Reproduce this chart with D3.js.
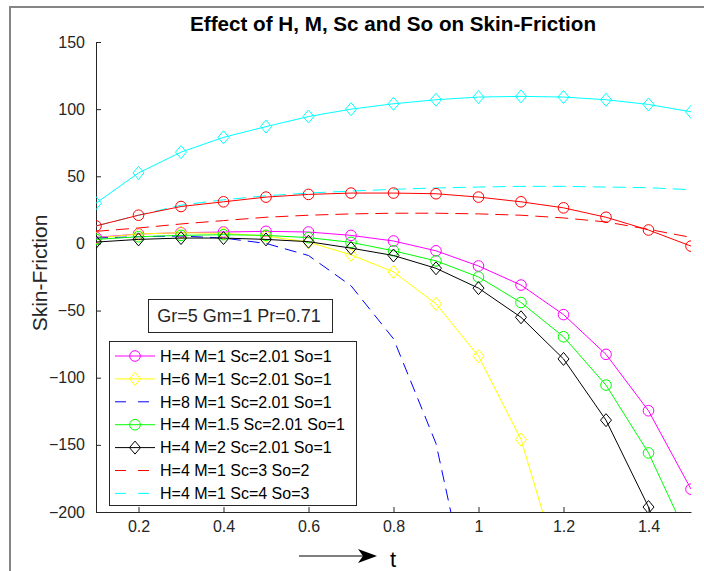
<!DOCTYPE html>
<html>
<head>
<meta charset="utf-8">
<script src="https://cdn.jsdelivr.net/npm/d3@7"></script>
<style>
  body { margin: 0; background: #fff; }
  svg text { font-family: "Liberation Sans", Arial, sans-serif; fill: #262626; }
</style>
</head>
<body>
<svg id="chart" width="704" height="571"></svg>
<script>
// values
var t_values = [0.1, 0.2, 0.3, 0.4, 0.5, 0.6, 0.7, 0.8, 0.9, 1.0, 1.1, 1.2, 1.3, 1.4, 1.5];

var sf_h4 = [4.5, 7, 8, 8.5, 9, 8.5, 6, 1.8, -5.5, -16.8, -31, -53, -82.6, -124.6, -183];
var sf_h6 = [4, 7, 8, 7.5, 5.5, 1, -8.5, -21.2, -45, -84, -146, -252];
var sf_h8 = [4, 5, 5.5, 4, 0, -9, -31.5, -71, -149, -295];
var sf_m15 = [3, 5, 6, 6.5, 6, 4.3, 0.8, -5.5, -13, -25, -44, -69.5, -105.5, -156, -224];
var sf_m2 = [1, 3, 4, 4, 3, 1.3, -3.5, -9, -18.5, -33.3, -55, -86, -131.6, -196.3, -285];
var sf_sc3 = [9, 11.5, 14.5, 17, 19.5, 21, 22, 22.5, 22.5, 22, 21, 19, 16, 10.5, 4.5];
var sf_sc4 = [13, 21, 28.5, 32.5, 35.5, 37.5, 39, 40.3, 41.3, 42, 42.5, 42.5, 42, 41.5, 40];
// two more curves on the plot that the legend does not list
var sf_red_extra = [13, 21, 27.5, 31, 34.5, 36.5, 37.5, 37.5, 37, 34.5, 31, 26.5, 19.5, 10, -2];
var sf_cyan_extra = [30, 52.5, 68, 79, 87, 94.5, 100, 104, 107, 109, 109.5, 109, 107, 103.5, 98];

var legend_labels = [
  "H=4 M=1 Sc=2.01 So=1",
  "H=6 M=1 Sc=2.01 So=1",
  "H=8 M=1 Sc=2.01 So=1",
  "H=4 M=1.5 Sc=2.01 So=1",
  "H=4 M=2 Sc=2.01 So=1",
  "H=4 M=1 Sc=3 So=2",
  "H=4 M=1 Sc=4 So=3"
];

var x_ticks = [0.2, 0.4, 0.6, 0.8, 1.0, 1.2, 1.4];
var x_tick_labels = ["0.2", "0.4", "0.6", "0.8", "1", "1.2", "1.4"];
var y_ticks = [-200, -150, -100, -50, 0, 50, 100, 150];
var y_tick_labels = ["\u2212200", "\u2212150", "\u2212100", "\u221250", "0", "50", "100", "150"];

var series = [
  {values: sf_h4, color: "#ff00ff", dash: null, marker: "circle"},
  {values: sf_h6, color: "#ffff00", dash: null, marker: "diamond"},
  {values: sf_h8, color: "#0000ff", dash: "12,7", marker: null},
  {values: sf_m15, color: "#00ff00", dash: null, marker: "circle"},
  {values: sf_m2, color: "#000000", dash: null, marker: "diamond"},
  {values: sf_sc3, color: "#ff0000", dash: "13,7", marker: null},
  {values: sf_sc4, color: "#00ffff", dash: "13,7", marker: null},
  {values: sf_red_extra, color: "#ff0000", dash: null, marker: "circle"},
  {values: sf_cyan_extra, color: "#00ffff", dash: null, marker: "diamond"}
];

var svg = d3.select("svg#chart");

// grey frame of the figure window
svg.append("line").attr("x1", 10).attr("y1", 6).attr("x2", 10).attr("y2", 571)
  .attr("stroke", "#858585").attr("stroke-width", 2);
svg.append("line").attr("x1", 9).attr("y1", 7).attr("x2", 704).attr("y2", 7)
  .attr("stroke", "#858585").attr("stroke-width", 2);

var x = d3.scaleLinear().domain([0.1, 1.5]).range([96, 691]);
var y = d3.scaleLinear().domain([-200, 150]).range([512, 42]);

svg.append("clipPath").attr("id", "plotclip")
  .append("rect").attr("x", 96).attr("y", 42).attr("width", 595).attr("height", 470);

//axes, ticks point inward like matlab
var xAxis = svg.append("g")
  .attr("transform", "translate(0,512)")
  .call(d3.axisBottom(x).tickValues(x_ticks)
    .tickFormat(function(d, i) { return x_tick_labels[i]; })
    .tickSizeInner(-5).tickSizeOuter(0).tickPadding(9));
var yAxis = svg.append("g")
  .attr("transform", "translate(96,0)")
  .call(d3.axisLeft(y).tickValues(y_ticks)
    .tickFormat(function(d, i) { return y_tick_labels[i]; })
    .tickSizeInner(-5).tickSizeOuter(0).tickPadding(11));

[xAxis, yAxis].forEach(function(a) {
  a.attr("color", "#262626");
  a.selectAll("text").attr("font-size", 16).attr("font-family", null).style("fill", "#262626");
  a.select(".domain").attr("stroke", "#262626");
});

//curves
var line = d3.line()
  .x(function(d, i) { return x(t_values[i]); })
  .y(function(d) { return y(d); });

var plot = svg.append("g").attr("clip-path", "url(#plotclip)");

function drawMarker(g, type, cx, cy, color) {
  if (type == "circle") {
    g.append("circle").attr("cx", cx).attr("cy", cy).attr("r", 5.3)
      .attr("fill", "none").attr("stroke", color).attr("stroke-width", 1);
  } else if (type == "diamond") {
    g.append("path")
      .attr("d", "M" + cx + "," + (cy - 6.5) + "L" + (cx + 5.5) + "," + cy + "L" + cx + "," + (cy + 6.5) + "L" + (cx - 5.5) + "," + cy + "Z")
      .attr("fill", "none").attr("stroke", color).attr("stroke-width", 1);
  }
}

series.forEach(function(s) {
  var g = plot.append("g");
  g.append("path")
    .attr("d", line(s.values))
    .attr("fill", "none")
    .attr("stroke", s.color)
    .attr("stroke-width", 1)
    .attr("stroke-dasharray", s.dash);
  if (s.marker) {
    s.values.forEach(function(v, i) {
      var cy = y(v);
      if (cy <= 512 && cy >= 42) drawMarker(g, s.marker, x(t_values[i]), cy, s.color);
    });
  }
});

//title and labels
svg.append("text").attr("x", 393).attr("y", 31).attr("text-anchor", "middle")
  .attr("font-size", 20).attr("font-weight", "bold").style("fill", "#000")
  .attr("textLength", 406).attr("lengthAdjust", "spacingAndGlyphs")
  .text("Effect of H, M, Sc and So on Skin-Friction");

svg.append("text").attr("transform", "translate(47,273) rotate(-90)")
  .attr("text-anchor", "middle").attr("font-size", 21)
  .text("Skin-Friction");

// arrow and t under the x axis
svg.append("line").attr("x1", 299).attr("y1", 556).attr("x2", 366).attr("y2", 556)
  .attr("stroke", "#000").attr("stroke-width", 1.2);
svg.append("path").attr("d", "M377,556L358,549L363,556L358,563Z").attr("fill", "#000");
svg.append("text").attr("x", 393).attr("y", 567).attr("text-anchor", "middle")
  .attr("font-size", 22).style("fill", "#000").text("t");

//parameter box
svg.append("rect").attr("x", 148.5).attr("y", 299.5).attr("width", 184).attr("height", 33)
  .attr("fill", "#fff").attr("stroke", "#262626");
svg.append("text").attr("x", 239).attr("y", 322).attr("text-anchor", "middle")
  .attr("font-size", 18).text("Gr=5 Gm=1 Pr=0.71");

//legend
var legend = svg.append("g");
legend.append("rect").attr("x", 109.5).attr("y", 341.5).attr("width", 247).attr("height", 164)
  .attr("fill", "#fff").attr("stroke", "#262626");

legend_labels.forEach(function(label, i) {
  var s = series[i];
  var ly = 356 + i * 22.9;
  legend.append("line").attr("x1", 115).attr("x2", 155).attr("y1", ly).attr("y2", ly)
    .attr("stroke", s.color).attr("stroke-width", 1)
    .attr("stroke-dasharray", s.dash ? "11,12" : null);
  if (s.marker) drawMarker(legend, s.marker, 135, ly, s.color);
  legend.append("text").attr("x", 160).attr("y", ly).attr("dy", "0.36em")
    .attr("font-size", 16).style("fill", "#000").text(label);
});
</script>
</body>
</html>
